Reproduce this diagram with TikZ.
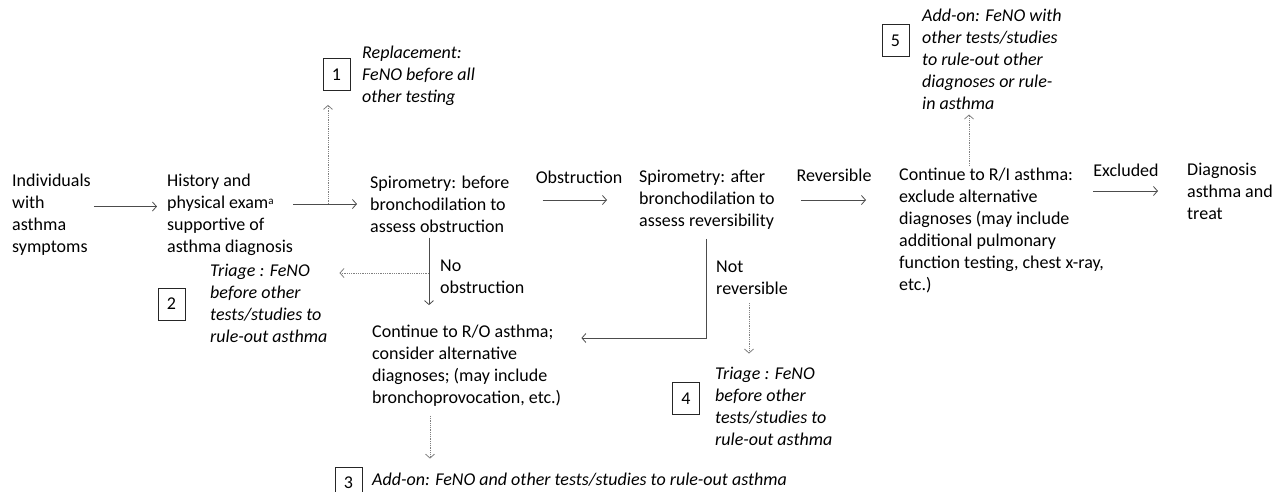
\documentclass[tikz,border=0pt]{standalone}
\usepackage{fontspec}
\setmainfont{Carlito}
\usetikzlibrary{arrows.meta}

\begin{document}
\begin{tikzpicture}[x=1pt, y=-1pt,
  font=\fontsize{18}{22}\selectfont,
  txt/.style={anchor=west, align=left, inner sep=0pt},
  opt/.style={txt, font=\fontsize{18}{22}\selectfont\itshape},
  lbl/.style={inner sep=0pt},
  numbox/.style={draw=black!85, line width=0.8pt, minimum width=27pt, minimum height=32pt, inner sep=0pt},
  flow/.style={draw=black!70, line width=0.8pt, -{Straight Barb[length=4pt,width=9pt]}},
  alt/.style={flow, draw=black!50, densely dotted},
]
\useasboundingbox (0,0) rectangle (1282,491);

% main path
\node[txt] (indiv)  at (12,214.5)  {Individuals\\with\\asthma\\symptoms};
\node[txt] (hist)   at (167,214.5) {History and\\physical exam{\raisebox{0.45ex}{\fontsize{11}{11}\selectfont a}}\\supportive of\\asthma diagnosis};
\node[txt] (spiro1) at (370,204)   {Spirometry: before\\bronchodilation to\\assess obstruction};
\node[txt] (spiro2) at (639,200)   {Spirometry: after\\bronchodilation to\\assess reversibility};
\node[txt] (ri)     at (899,230.5) {Continue to R/I asthma:\\exclude alternative\\diagnoses (may include\\additional pulmonary\\function testing, chest x-ray,\\etc.)};
\node[txt] (diag)   at (1187,191)  {Diagnosis\\asthma and\\treat};
\node[txt] (ro)     at (372,366)   {Continue to R/O asthma;\\consider alternative\\diagnoses; (may include\\bronchoprovocation, etc.)};

% branch labels
\node[lbl] (obs)    at (579,177)   {Obstruction};
\node[lbl] (rev)    at (834,175)   {Reversible};
\node[lbl] (excl)   at (1126,170)  {Excluded};
\node[txt] (noobs)  at (440,277)   {No\\obstruction};
\node[txt] (notrev) at (716,277.5) {Not\\reversible};

% FeNO roles
\node[numbox] (box1) at (336.5,74.5) {1};
\node[opt] (role1)   at (362,76)     {Replacement:\\FeNO before all\\other testing};
\node[numbox] (box2) at (171.5,304)  {2};
\node[opt] (role2)   at (210,303)    {Triage : FeNO\\before other\\tests/studies to\\rule-out asthma};
\node[numbox] (box3) at (348.5,483)  {3};
\node[opt] (role3)   at (372,480)    {Add-on: FeNO and other tests/studies to rule-out asthma};
\node[numbox] (box4) at (686,398.5)  {4};
\node[opt] (role4)   at (715,406)    {Triage : FeNO\\before other\\tests/studies to\\rule-out asthma};
\node[numbox] (box5) at (895.5,40.5) {5};
\node[opt] (role5)   at (922,59)     {Add-on: FeNO with\\other tests/studies\\to rule-out other\\diagnoses or rule-\\in asthma};

\coordinate (fork1)  at (328,204);
\coordinate (fork2)  at (429,273);
\coordinate (fork4)  at (749,303);
\coordinate (s1down) at ([xshift=59pt]spiro1.south west);
\coordinate (s2down) at ([xshift=67pt]spiro2.south west);
\coordinate (ro-in)  at ([xshift=20pt,yshift=28pt]ro.east);
\coordinate (ro-down) at ([xshift=58pt]ro.south west);
\coordinate (ri-up)  at ([xshift=70pt]ri.north west);

\draw[flow] ([xshift=3pt,yshift=8pt]indiv.east) -- ([xshift=-10pt,yshift=8pt]hist.west);
\draw[flow, shorten >=13pt] (hist.east |- spiro1.west) -- (spiro1.west);
\draw[flow, shorten <=33pt, shorten >=32pt] (spiro1.east |- spiro2.west) -- (spiro2.west);
\draw[flow, shorten <=26pt, shorten >=33pt] (spiro2.east) -- (ri.west |- spiro2.east);
\draw[flow, shorten <=-11pt, shorten >=29pt] (ri.east |- diag.west) -- (diag.west);
\draw[flow, shorten <=5pt, shorten >=20pt] (s1down) -- (s1down |- ro.north);
\draw[flow, shorten <=9pt] (s2down) |- (ro-in);

% where FeNO could come in
\draw[alt, shorten >=14pt] (fork1) -- (fork1 |- box1.south);
\draw[alt, shorten >=12pt] (fork2) -- (fork2 -| role2.east);
\draw[alt, shorten >=13pt] (fork4) -- (fork4 |- role4.north);
\draw[alt, shorten <=9pt, shorten >=8pt] (ro-down) -- (ro-down |- box3.north);
\draw[alt, shorten <=2pt, shorten >=5pt] (ri-up) -- (ri-up |- role5.south);
\end{tikzpicture}
\end{document}
